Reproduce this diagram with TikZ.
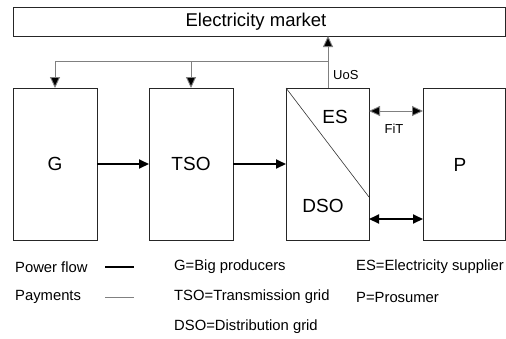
\documentclass[tikz,border=0pt]{standalone}
\usepackage{fontspec}
\setmainfont{Liberation Sans}
\usetikzlibrary{arrows.meta}
\begin{document}
\begin{tikzpicture}[x=1pt,y=-1pt,
  box/.style={draw=black!85,line width=0.9pt},
  pay/.style={draw=black!50,line width=0.9pt},
  payarr/.style={pay,-{Triangle[length=11pt,width=10pt,fill=black]}},
  paybi/.style={pay,{Triangle[length=11pt,width=10pt,fill=black]}-{Triangle[length=11pt,width=10pt,fill=black]}},
  pow/.style={draw=black,line width=2pt,-{Triangle[length=10pt,width=9pt]}},
  powbi/.style={draw=black,line width=2pt,{Triangle[length=10pt,width=9pt]}-{Triangle[length=10pt,width=9pt]}},
  big/.style={font=\fontsize{19}{22}\selectfont},
  small/.style={font=\fontsize{13}{15}\selectfont},
  leg/.style={font=\fontsize{14.8}{18}\selectfont,anchor=west,inner sep=0pt}]
\useasboundingbox (0,0) rectangle (506,338);
\fill[white] (0,0) rectangle (506,338);
% market
\draw[box] (13,7) rectangle (505.5,36);
\node[font=\fontsize{18.5}{22}\selectfont] (mkt) at (256,21.5) {Electricity market};
\coordinate (mktin) at (328,36);
% boxes
\draw[box] (13,88) rectangle (97,240);
\draw[box] (149,88) rectangle (233,240);
\draw[box] (286,88) rectangle (369,240);
\draw[box] (423,88) rectangle (505.5,240);
\coordinate (Gr) at (97,164);
\coordinate (Tl) at (149,164);
\coordinate (Tr) at (233,164);
\coordinate (Dl) at (286,164);
\coordinate (Gt) at (55,88);
\coordinate (Tt) at (191,88);
\coordinate (Dt) at (328,88);
\coordinate (ESr) at (369,111);
\coordinate (Pl1) at (423,111);
\coordinate (DSr) at (369,219);
\coordinate (Pl2) at (423,219);
\draw[line width=0.6pt,black!80] (286,88) -- (369,197);
\node[big] (G) at (55,164) {G};
\node[big] (TSO) at (191,164) {TSO};
\node[big] (ES) at (335,117) {ES};
\node[big] (DSO) at (323,206) {DSO};
\node[big] (P) at (460,165) {P};
% payments
\draw[payarr] (Dt) -- (mktin);
\draw[pay] (328,61) -- (55,61);
\draw[payarr] (55,61) -- (Gt);
\draw[payarr] (191,61) -- (Tt);
\node[small,anchor=west,inner sep=0pt] (uos) at (333,75) {UoS};
\draw[paybi] (ESr) -- (Pl1);
\node[small] (fit) at (394,129) {FiT};
% power
\draw[pow] (Gr) -- (Tl);
\draw[pow] (Tr) -- (Dl);
\draw[powbi] (DSr) -- (Pl2);
% legend
\node[leg] (l1) at (15,267) {Power flow};
\node[leg] (l2) at (15,297) {Payments};
\draw[black,line width=2pt] (105,267) -- (134,267);
\draw[pay] (105,297) -- (134,297);
\node[leg] (l3) at (174,267) {G=Big producers};
\node[leg] (l4) at (174,297) {TSO=Transmission grid};
\node[leg] (l5) at (174,327) {DSO=Distribution grid};
\node[leg] (l6) at (356,267) {ES=Electricity supplier};
\node[leg] (l7) at (356,297) {P=Prosumer};
\end{tikzpicture}
\end{document}
